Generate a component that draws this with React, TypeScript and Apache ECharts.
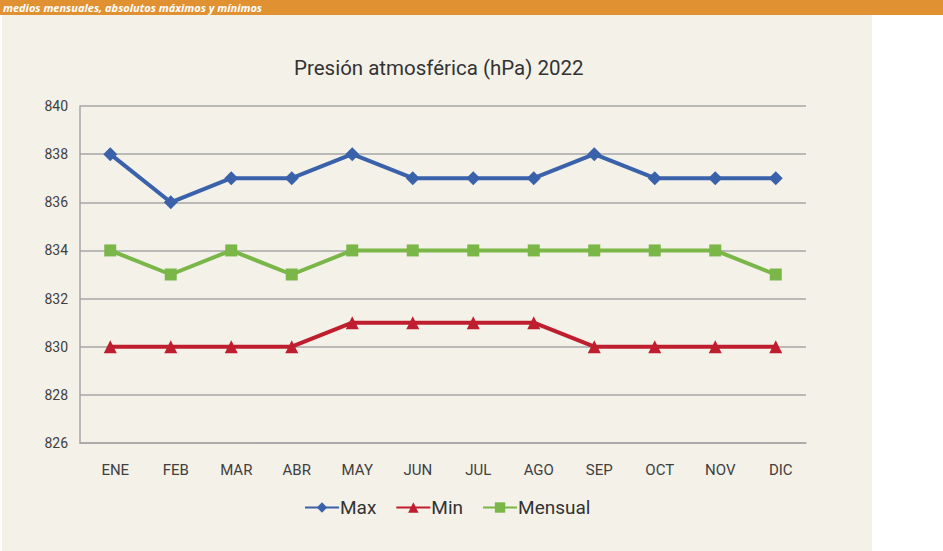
import React, { useEffect, useRef } from "react";
import * as echarts from "echarts";

const months = ["ENE", "FEB", "MAR", "ABR", "MAY", "JUN", "JUL", "AGO", "SEP", "OCT", "NOV", "DIC"];
const maxValues = [838, 836, 837, 837, 838, 837, 837, 837, 838, 837, 837, 837];
const minValues = [830, 830, 830, 830, 831, 831, 831, 831, 830, 830, 830, 830];
const mensualValues = [834, 833, 834, 833, 834, 834, 834, 834, 834, 834, 834, 833];

const FONT = "Roboto, 'Liberation Sans', sans-serif";

export default function App() {
  const ref = useRef<HTMLDivElement>(null);
  useEffect(() => {
    if (!ref.current) return;
    const chart = echarts.init(ref.current, null, { renderer: "svg" });
    const mk = (name: string, data: number[], color: string, symbol: string, size: number) => ({
      name,
      type: "line",
      data,
      symbol,
      symbolSize: size,
      showAllSymbol: true,
      lineStyle: { color, width: 4 },
      itemStyle: { color },
    });
    chart.setOption({
      animation: false,
      backgroundColor: "#ffffff",
      textStyle: { fontFamily: FONT },
      graphic: [
        { type: "rect", left: 2, top: 15, shape: { width: 870, height: 536 }, style: { fill: "#f4f1e9" }, z: -10 },
        { type: "rect", left: 0, top: 0, shape: { width: 943, height: 15 }, style: { fill: "#e09232" }, z: -10 },
        {
          type: "text",
          left: 3,
          top: 2,
          style: {
            text: "medios mensuales, absolutos máximos y mínimos",
            fill: "#ffffff",
            font: "italic bold 11px 'Open Sans', sans-serif",
          },
          z: 5,
        },
      ],
      title: {
        text: "Presión atmosférica (hPa) 2022",
        left: 289,
        top: 52,
        textStyle: { fontSize: 20.5, fontWeight: "normal", color: "#333333", fontFamily: FONT },
      },
      legend: {
        bottom: 29,
        left: 299,
        itemGap: 19,
        itemWidth: 34,
        itemHeight: 13,
        textStyle: { fontSize: 19, color: "#333333", fontFamily: FONT, padding: [0, 0, 0, -4] },
        data: ["Max", "Min", "Mensual"],
      },
      grid: { left: 80, right: 137, top: 106, bottom: 108, containLabel: false },
      xAxis: {
        type: "category",
        data: months,
        boundaryGap: true,
        axisLine: { show: true, lineStyle: { color: "#a6a6a6", width: 1.5 } },
        axisTick: { show: false },
        axisLabel: { color: "#404040", fontSize: 15, margin: 19, fontFamily: FONT, padding: [0, 0, 0, 10] },
      },
      yAxis: {
        type: "value",
        min: 826,
        max: 840,
        interval: 2,
        axisLine: { show: true, lineStyle: { color: "#a6a6a6", width: 1.5 } },
        axisTick: { show: false },
        splitLine: { lineStyle: { color: "#a6a6a6", width: 1.5 } },
        axisLabel: { color: "#404040", fontSize: 14, margin: 12, fontFamily: FONT },
      },
      series: [
        mk("Max", maxValues, "#3a62aa", "diamond", 14),
        mk("Min", minValues, "#be1e2d", "triangle", 13),
        mk("Mensual", mensualValues, "#7ab648", "rect", 12),
      ],
    });
    return () => chart.dispose();
  }, []);
  return <div ref={ref} style={{ position: "fixed", left: 0, top: 0, width: 943, height: 551 }} />;
}
